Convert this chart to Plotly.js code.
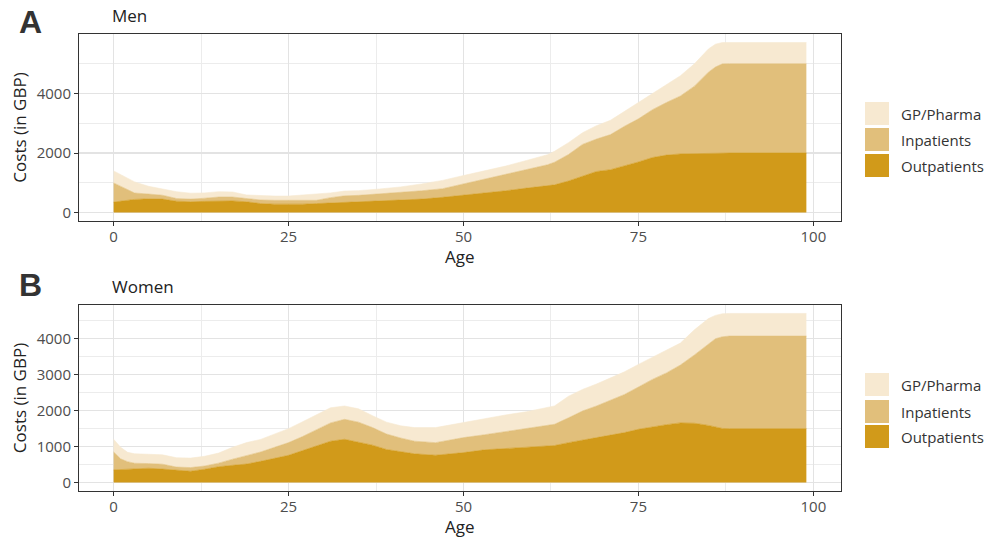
<!DOCTYPE html>
<html>
<head>
<meta charset="utf-8">
<script src="https://cdn.plot.ly/plotly-3.0.1.min.js"></script>
<style>html,body{margin:0;padding:0;background:#fff;}#chart{width:989px;height:538px;}</style>
</head>
<body>
<div id="chart"></div>
<script>
// ---------- Data ----------
const categories = ["Outpatients", "Inpatients", "GP/Pharma"];

// Panel A: Men
const agesMen = [0,2,3,5,7,9,11,13,15,17,19,21,23,25,27,29,31,33,35,38,41,44,47,50,53,56,59,62,63,65,67,69,71,73,75,77,79,81,83,85,86,87,88,99];
const menOutpatients = [350,420,440,460,450,380,360,375,395,390,360,300,280,270,280,300,320,340,350,370,400,450,510,580,650,730,820,893,930,1060,1230,1380,1440,1560,1700,1850,1930,1970,1985,1995,2000,2000,2000,2000];
const menInpatients = [645,340,215,160,130,90,90,105,125,130,100,120,130,135,125,110,180,220,226,250,270,280,290,380,450,530,610,712,760,890,1060,1090,1180,1340,1450,1608,1770,1950,2265,2725,2893,3000,3006,3006];
const menGP = [405,390,375,260,220,230,200,180,180,170,130,140,143,148,175,200,160,160,159,170,190,230,280,283,290,300,320,339,367,400,390,450,480,500,560,565,600,680,750,780,768,718,712,712];

// Panel B: Women
const agesWomen = [0,1,2,3,5,7,9,11,13,15,17,19,21,23,25,27,29,31,33,35,37,39,41,43,46,48,50,53,56,59,62,63,65,67,69,71,73,75,77,79,81,83,85,86,87,88,99];
const womenOutpatients = [352,360,365,375,398,375,335,315,370,440,480,515,590,670,759,890,1020,1150,1204,1120,1040,920,850,800,760,790,833,910,950,980,1015,1030,1110,1190,1250,1320,1390,1482,1550,1610,1660,1650,1590,1550,1505,1500,1500];
const womenInpatients = [500,300,215,162,130,135,95,102,90,100,170,230,260,310,352,390,440,510,555,560,490,430,390,350,350,390,417,420,470,520,575,590,690,800,880,960,1060,1176,1320,1440,1610,1900,2260,2450,2551,2574,2574];
const womenGP = [352,320,260,263,259,260,260,263,270,280,330,366,350,370,389,410,420,420,371,370,330,330,340,378,418,420,435,460,460,470,500,510,600,600,610,620,630,629,620,650,610,700,710,650,639,630,630];

const xTicks = [0, 25, 50, 75, 100];
const yTicksMen = [0, 2000, 4000];
const yTicksWomen = [0, 1000, 2000, 3000, 4000];
const panelTitles = ["Men", "Women"];
const panelTags = ["A", "B"];

// ---------- Styling ----------
const colors = {"Outpatients": "#D19A1A", "Inpatients": "#E1BF7B", "GP/Pharma": "#F7E9D1"};
const FONT = "Open Sans, Noto Sans, sans-serif";

function area(x, y, name, xa, ya, group) {
  return {
    type: "scatter", mode: "lines", x: x, y: y, name: name,
    stackgroup: group, xaxis: xa, yaxis: ya,
    line: {width: 0.6, color: colors[name]}, fillcolor: colors[name],
    showlegend: false, hoverinfo: "x+y+name"
  };
}

const traces = [
  area(agesMen, menOutpatients, "Outpatients", "x", "y", "men"),
  area(agesMen, menInpatients, "Inpatients", "x", "y", "men"),
  area(agesMen, menGP, "GP/Pharma", "x", "y", "men"),
  area(agesWomen, womenOutpatients, "Outpatients", "x2", "y2", "women"),
  area(agesWomen, womenInpatients, "Inpatients", "x2", "y2", "women"),
  area(agesWomen, womenGP, "GP/Pharma", "x2", "y2", "women")
];

// pixel -> paper helpers (plot area: x 79..841, y 34..491)
const L = 79, R = 148, T = 34, B = 47, W = 989, H = 538;
const PW = W - L - R, PH = H - T - B;
const px = v => (v - L) / PW;
const py = v => (H - B - v) / PH;

const gridMajor = "#e3e3e3", gridMinor = "#ececec";
function xAxis(anchor) {
  return {
    anchor: anchor, domain: [0, 1], range: [-4.95, 103.95],
    tickvals: xTicks, ticktext: xTicks.map(String),
    ticks: "outside", ticklen: 4, tickwidth: 1, tickcolor: "#333",
    ticklabelstandoff: -2,
    showline: true, linecolor: "#333", linewidth: 1, mirror: true,
    showgrid: true, gridcolor: gridMajor, gridwidth: 1.2, zeroline: false,
    minor: {tickvals: [12.5, 37.5, 62.5, 87.5], showgrid: true, gridcolor: gridMinor, gridwidth: 1, ticks: ""},
    tickfont: {family: FONT, size: 15, color: "#4d4d4d"}
  };
}
function yAxis(anchor, domain, range, tickvals) {
  const step = tickvals[1] - tickvals[0];
  const minorVals = [];
  for (let v = step / 2; v < range[1]; v += step) minorVals.push(v);
  return {
    anchor: anchor, domain: domain, range: range,
    tickvals: tickvals, ticktext: tickvals.map(String),
    ticks: "outside", ticklen: 4, tickwidth: 1, tickcolor: "#333",
    showline: true, linecolor: "#333", linewidth: 1, mirror: true,
    showgrid: true, gridcolor: gridMajor, gridwidth: 1.2, zeroline: false,
    minor: {tickvals: minorVals, showgrid: true, gridcolor: gridMinor, gridwidth: 1, ticks: ""},
    tickfont: {family: FONT, size: 15, color: "#4d4d4d"},
    title: {text: "Costs (in GBP)", font: {family: FONT, size: 17, color: "#222"}, standoff: 5}
  };
}

const annotations = [];
const shapes = [];
// panel tags, titles and x-axis titles
[[22, 16, 256], [285, 286, 526]].forEach((pos, i) => {
  annotations.push({xref: "paper", yref: "paper", x: px(17), y: py(pos[0]), xanchor: "left", yanchor: "middle",
    text: "<b>" + panelTags[i] + "</b>", showarrow: false,
    font: {family: "Liberation Sans, Arial, sans-serif", size: 32, color: "#333"}});
  annotations.push({xref: "paper", yref: "paper", x: px(110), y: py(pos[1]), xanchor: "left", yanchor: "middle",
    text: panelTitles[i], showarrow: false,
    font: {family: FONT, size: 17, color: "#222"}});
  annotations.push({xref: "paper", yref: "paper", x: 0.5, y: py(pos[2]), xanchor: "center", yanchor: "middle",
    text: "Age", showarrow: false,
    font: {family: FONT, size: 17, color: "#222"}});
});
// legends (one per panel)
const legendOrder = ["GP/Pharma", "Inpatients", "Outpatients"];
[[102, 128, 154], [373, 400, 425]].forEach(tops => {
  legendOrder.forEach((name, k) => {
    const t = tops[k], b = t + 23;
    shapes.push({type: "rect", xref: "paper", yref: "paper", x0: px(865), x1: px(889), y0: py(b), y1: py(t),
      fillcolor: colors[name], line: {width: 0}, layer: "above"});
    annotations.push({xref: "paper", yref: "paper", x: px(899), y: py((t + b) / 2), xanchor: "left", yanchor: "middle",
      text: name, showarrow: false, font: {family: FONT, size: 15, color: "#333"}});
  });
});

const layout = {
  width: W, height: H,
  margin: {l: L, r: R, t: T, b: B, pad: 0},
  paper_bgcolor: "#fff", plot_bgcolor: "#fff",
  showlegend: false,
  font: {family: FONT},
  xaxis: xAxis("y"),
  yaxis: yAxis("x", [py(221), 1], [-286, 6004], yTicksMen),
  xaxis2: xAxis("y2"),
  yaxis2: yAxis("x2", [0, py(305)], [-235, 4939], yTicksWomen),
  annotations: annotations,
  shapes: shapes
};

Plotly.newPlot("chart", traces, layout, {staticPlot: true, displayModeBar: false});
</script>
</body>
</html>
